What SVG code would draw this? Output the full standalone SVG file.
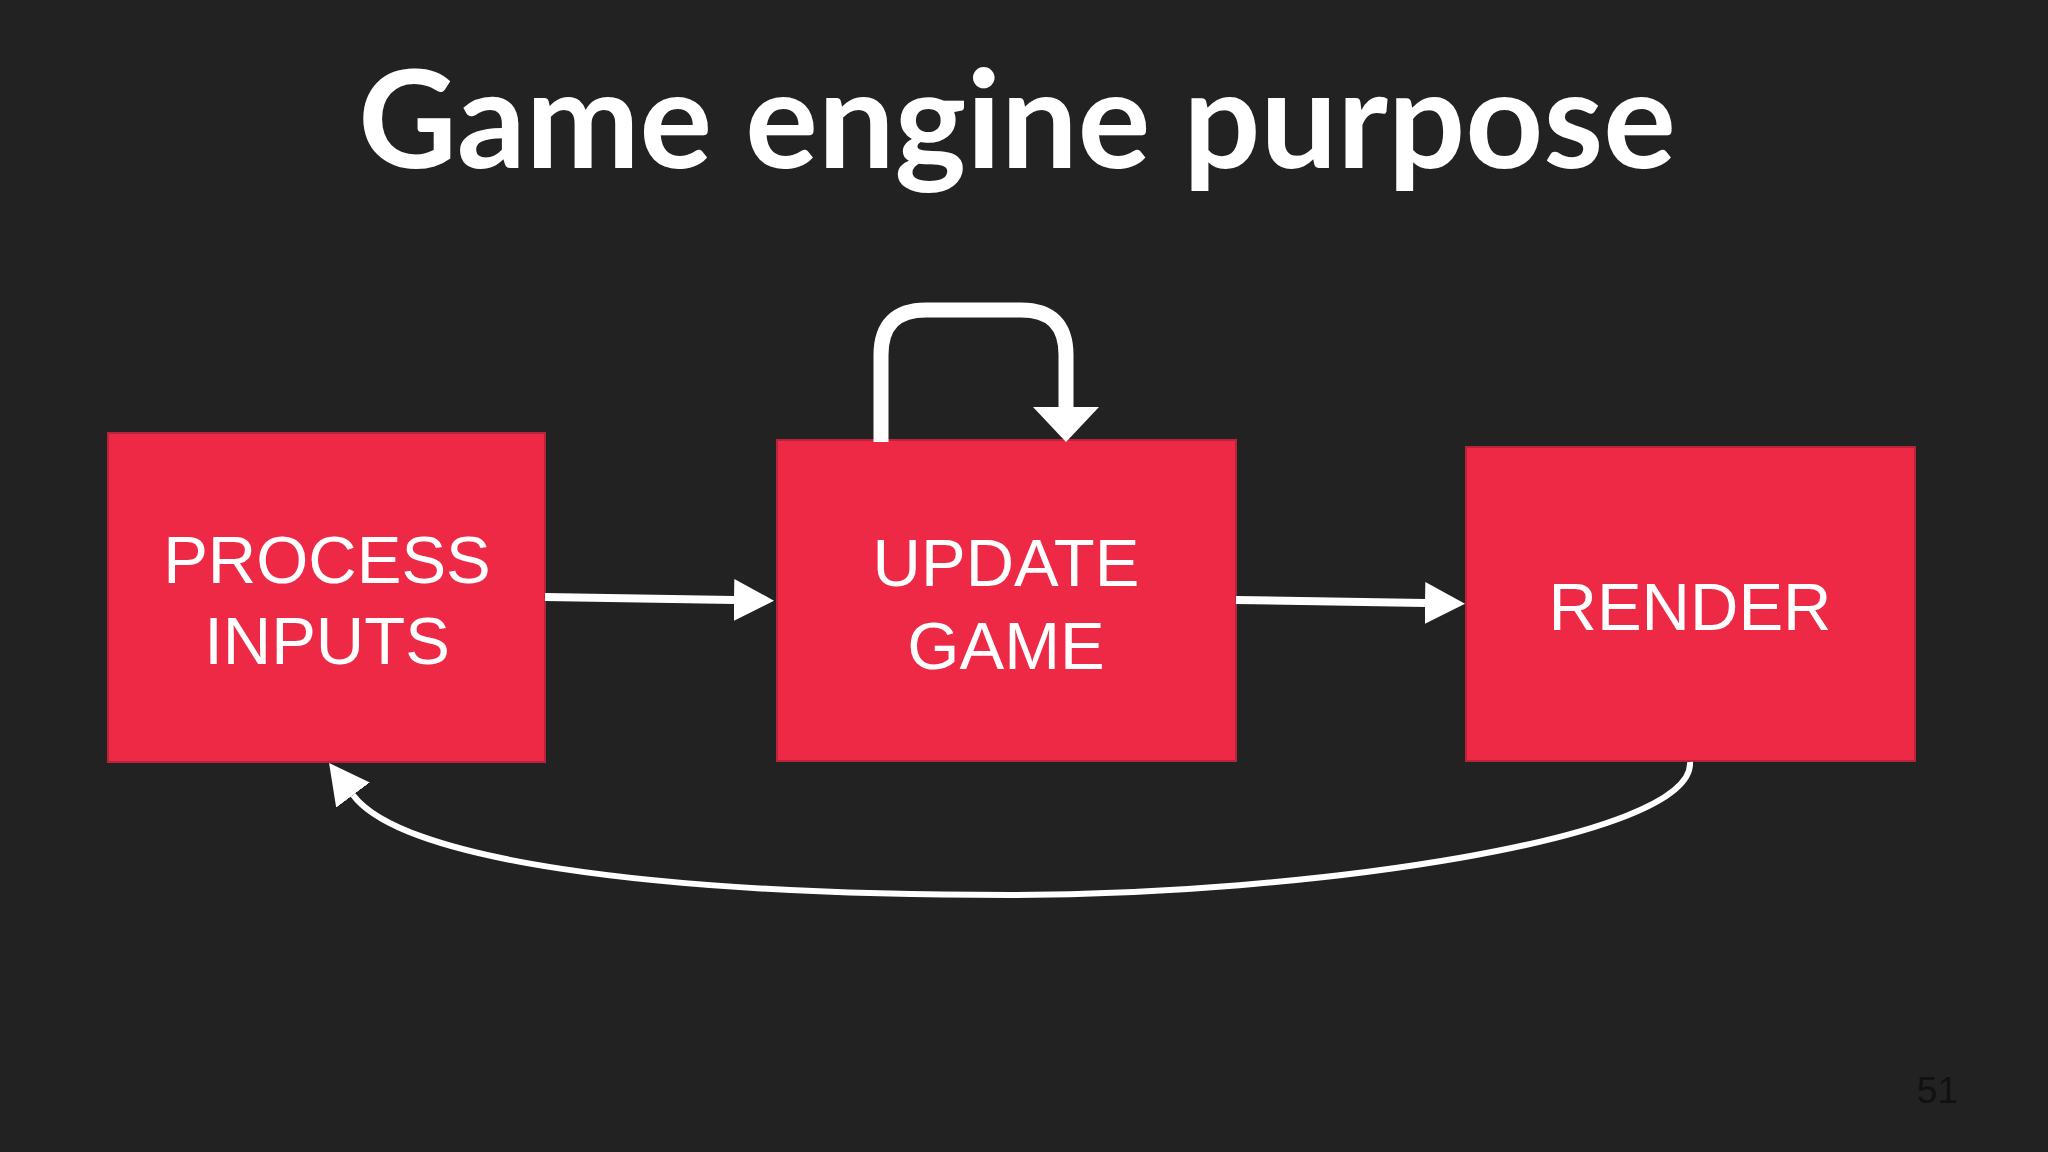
<svg xmlns="http://www.w3.org/2000/svg" width="2048" height="1152" viewBox="0 0 2048 1152">
  <style>
    .box { fill: #ed2945; stroke: #b9243b; stroke-width: 2; }
    .lbl { font-family: "Liberation Sans", Arial, sans-serif; font-size: 67px; fill: #ffffff; text-anchor: middle; }
    .title { font-family: Lato, "Liberation Sans", sans-serif; font-weight: bold; font-size: 136px; fill: #ffffff; text-anchor: middle; }
    .conn { fill: none; stroke: #ffffff; stroke-linecap: butt; stroke-linejoin: round; }
  </style>
  <defs>
    <marker id="head" markerUnits="userSpaceOnUse" markerWidth="40" markerHeight="42" viewBox="0 0 40 42" refX="0" refY="21" orient="auto">
      <path d="M0,0 L40,21 L0,42 Z" fill="#ffffff"/>
    </marker>
    <marker id="headBig" markerUnits="userSpaceOnUse" markerWidth="35" markerHeight="66" viewBox="0 0 35 66" refX="0" refY="33" orient="auto">
      <path d="M0,0 L35,33 L0,66 Z" fill="#ffffff"/>
    </marker>
  </defs>
  <rect x="0" y="0" width="2048" height="1152" fill="#222222"/>
  <text class="title" x="1017" y="168">Game engine purpose</text>

  <g id="process-inputs">
    <rect class="box" x="108" y="433" width="437" height="329"/>
    <text class="lbl" x="327" y="583">PROCESS</text>
    <text class="lbl" x="327" y="664">INPUTS</text>
  </g>
  <g id="update-game">
    <rect class="box" x="777" y="440" width="459" height="321"/>
    <text class="lbl" x="1006" y="586">UPDATE</text>
    <text class="lbl" x="1006" y="669">GAME</text>
  </g>
  <g id="render">
    <rect class="box" x="1466" y="447" width="449" height="314"/>
    <text class="lbl" x="1690" y="630">RENDER</text>
  </g>

  <g id="connectors">
    <path class="conn" stroke-width="8" d="M545,597 L734,600" marker-end="url(#head)"/>
    <path class="conn" stroke-width="8" d="M1236,600 L1425,603" marker-end="url(#head)"/>
    <path class="conn" stroke-width="15" d="M881,442 L881,355 Q881,310 926,310 L1021,310 Q1066,310 1066,355 L1066,407" marker-end="url(#headBig)"/>
    <path class="conn" stroke-width="6" d="M1690,762 C1695,840 1300,895 1010,895 C640,895 400,858 353,795" marker-end="url(#head)"/>
  </g>

  <text x="1958" y="1103" font-family="Liberation Sans, Arial, sans-serif" font-size="37" fill="#111111" text-anchor="end">51</text>
</svg>
